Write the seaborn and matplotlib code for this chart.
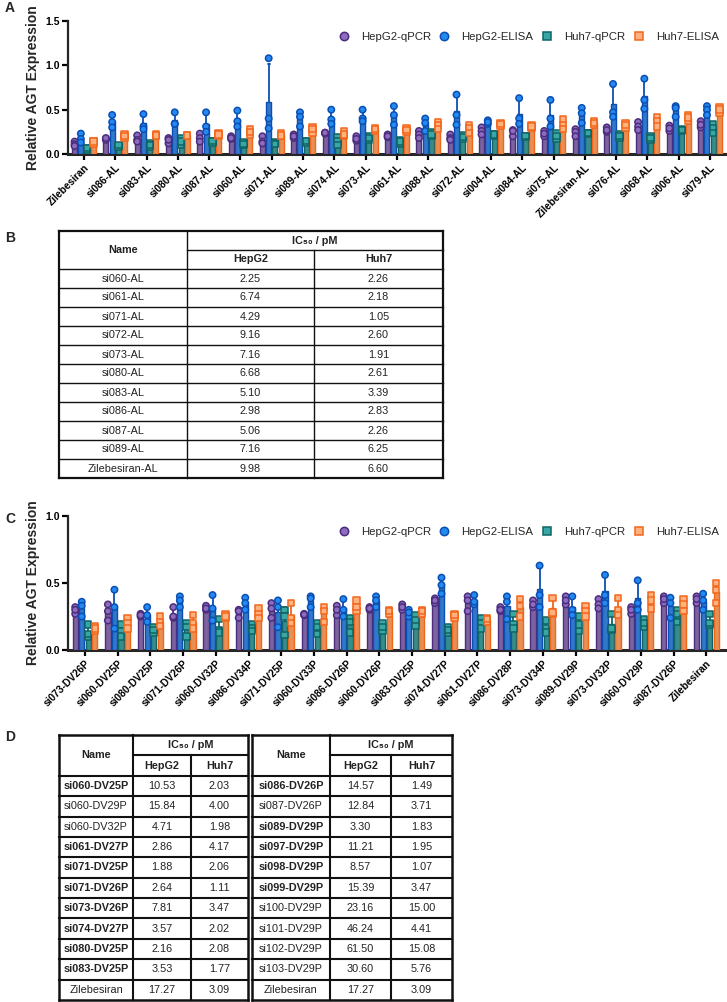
import numpy as np
import pandas as pd
import matplotlib
matplotlib.use("Agg")
import matplotlib.pyplot as plt
import seaborn as sns
from matplotlib.lines import Line2D

sns.set_theme(style="ticks")
plt.rcParams['font.family'] = ['Liberation Sans', 'DejaVu Sans']

groups = ["HepG2-qPCR", "HepG2-ELISA", "Huh7-qPCR", "Huh7-ELISA"]
bar_colors = ["#7b5aa6", "#1976e3", "#2a9a9a", "#ff8a3d"]
edge_colors = ["#4b2c7d", "#0b4fb3", "#0f6464", "#f2661a"]
marker_fill = ["#8d6cbf", "#2489f0", "#3aa7a7", "#ffb27f"]
markers = ["o", "o", "s", "s"]

# ---------------- Panel A data ----------------
a_names = ["Zilebesiran", "si086-AL", "si083-AL", "si080-AL", "si087-AL", "si060-AL",
           "si071-AL", "si089-AL", "si074-AL", "si073-AL", "si061-AL", "si088-AL",
           "si072-AL", "si004-AL", "si084-AL", "si075-AL", "Zilebesiran-AL", "si076-AL",
           "si068-AL", "si006-AL", "si079-AL"]
a_hepg2_qpcr = [[0.14, 0.11, 0.09], [0.17, 0.16, 0.18], [0.21, 0.16, 0.14], [0.18, 0.12, 0.16],
                [0.23, 0.18, 0.14], [0.20, 0.17, 0.18], [0.20, 0.14, 0.12], [0.22, 0.18, 0.20],
                [0.24, 0.23, 0.24], [0.20, 0.15, 0.17], [0.22, 0.19, 0.20], [0.26, 0.22, 0.18],
                [0.22, 0.18, 0.16], [0.30, 0.26, 0.22], [0.27, 0.20, 0.26], [0.26, 0.20, 0.23],
                [0.28, 0.25, 0.20], [0.30, 0.25, 0.27], [0.36, 0.31, 0.27], [0.32, 0.26, 0.29],
                [0.37, 0.30, 0.33]]
a_hepg2_elisa = [[0.23, 0.17, 0.13], [0.44, 0.36, 0.30], [0.45, 0.31, 0.28], [0.47, 0.34, 0.34],
                 [0.47, 0.31, 0.25], [0.49, 0.37, 0.31], [1.08, 0.40, 0.29], [0.47, 0.42, 0.31],
                 [0.50, 0.39, 0.34], [0.50, 0.40, 0.37], [0.54, 0.44, 0.33], [0.40, 0.35, 0.26],
                 [0.67, 0.44, 0.33], [0.38, 0.34, 0.36], [0.63, 0.40, 0.34], [0.61, 0.40, 0.31],
                 [0.52, 0.46, 0.35], [0.79, 0.47, 0.42], [0.85, 0.61, 0.51], [0.54, 0.52, 0.42],
                 [0.54, 0.50, 0.44]]
a_huh7_qpcr = [[0.06, 0.05, 0.07], [0.09, 0.08, 0.10], [0.12, 0.08, 0.10], [0.18, 0.10, 0.14],
               [0.14, 0.13, 0.15], [0.13, 0.10, 0.11], [0.13, 0.12, 0.11], [0.14, 0.13, 0.15],
               [0.19, 0.14, 0.10], [0.20, 0.16, 0.18], [0.16, 0.12, 0.14], [0.25, 0.20, 0.22],
               [0.21, 0.17, 0.19], [0.22, 0.21, 0.22], [0.20, 0.19, 0.20], [0.23, 0.17, 0.20],
               [0.24, 0.23, 0.235], [0.22, 0.18, 0.20], [0.20, 0.16, 0.18], [0.285, 0.26, 0.27],
               [0.34, 0.29, 0.24]]
a_huh7_elisa = [[0.14, 0.11, 0.14], [0.22, 0.18, 0.20], [0.22, 0.20, 0.21], [0.21, 0.20, 0.21],
                [0.24, 0.20, 0.22], [0.28, 0.22, 0.25], [0.24, 0.20, 0.21], [0.30, 0.24, 0.28],
                [0.26, 0.20, 0.22], [0.29, 0.26, 0.28], [0.29, 0.25, 0.27], [0.36, 0.32, 0.28],
                [0.32, 0.29, 0.24], [0.35, 0.32, 0.34], [0.32, 0.29, 0.31], [0.39, 0.33, 0.28],
                [0.37, 0.33, 0.35], [0.35, 0.30, 0.33], [0.42, 0.37, 0.31], [0.44, 0.38, 0.41],
                [0.53, 0.46, 0.50]]
a_yticks = [0.0, 0.5, 1.0, 1.5]

# ---------------- Panel C data ----------------
c_names = ["si073-DV26P", "si060-DV25P", "si080-DV25P", "si071-DV26P", "si060-DV32P",
           "si086-DV34P", "si071-DV25P", "si060-DV33P", "si086-DV26P", "si060-DV26P",
           "si083-DV25P", "si074-DV27P", "si061-DV27P", "si086-DV28P", "si073-DV34P",
           "si089-DV29P", "si073-DV32P", "si060-DV29P", "si087-DV26P", "Zilebesiran"]
c_hepg2_qpcr = [[0.32, 0.27, 0.30], [0.34, 0.29, 0.22], [0.27, 0.25, 0.26], [0.32, 0.24, 0.25],
                [0.33, 0.30, 0.31], [0.30, 0.24, 0.29], [0.35, 0.31, 0.24], [0.27, 0.26, 0.265],
                [0.33, 0.26, 0.30], [0.32, 0.30, 0.31], [0.34, 0.30, 0.32], [0.385, 0.35, 0.37],
                [0.40, 0.37, 0.29], [0.32, 0.29, 0.30], [0.37, 0.32, 0.34], [0.40, 0.34, 0.37],
                [0.38, 0.34, 0.31], [0.32, 0.27, 0.30], [0.40, 0.35, 0.38], [0.40, 0.35, 0.38]]
c_hepg2_elisa = [[0.36, 0.33, 0.25], [0.45, 0.32, 0.16], [0.32, 0.21, 0.26], [0.40, 0.37, 0.32],
                 [0.41, 0.31, 0.22], [0.39, 0.35, 0.30], [0.37, 0.32, 0.17], [0.40, 0.385, 0.32],
                 [0.38, 0.30, 0.25], [0.40, 0.37, 0.32], [0.30, 0.25, 0.28], [0.54, 0.485, 0.42],
                 [0.41, 0.34, 0.36], [0.40, 0.36, 0.23], [0.63, 0.41, 0.32], [0.40, 0.30, 0.26],
                 [0.56, 0.41, 0.35], [0.52, 0.35, 0.30], [0.39, 0.35, 0.24], [0.42, 0.37, 0.30]]
c_huh7_qpcr = [[0.19, 0.10, 0.12], [0.19, 0.14, 0.10], [0.17, 0.13, 0.15], [0.20, 0.17, 0.10],
               [0.23, 0.15, 0.13], [0.19, 0.16, 0.14], [0.30, 0.25, 0.11], [0.20, 0.17, 0.12],
               [0.24, 0.21, 0.13], [0.20, 0.14, 0.17], [0.26, 0.22, 0.18], [0.17, 0.13, 0.15],
               [0.24, 0.20, 0.16], [0.27, 0.19, 0.16], [0.22, 0.16, 0.13], [0.25, 0.14, 0.19],
               [0.27, 0.15, 0.16], [0.23, 0.17, 0.20], [0.30, 0.27, 0.21], [0.27, 0.19, 0.20]]
c_huh7_elisa = [[0.18, 0.14, 0.16], [0.24, 0.20, 0.16], [0.25, 0.21, 0.18], [0.26, 0.20, 0.16],
                [0.27, 0.24, 0.25], [0.31, 0.27, 0.24], [0.35, 0.24, 0.20], [0.32, 0.29, 0.21],
                [0.37, 0.29, 0.32], [0.30, 0.27, 0.29], [0.30, 0.27, 0.29], [0.27, 0.24, 0.26],
                [0.24, 0.21, 0.23], [0.38, 0.33, 0.25], [0.39, 0.27, 0.28], [0.33, 0.29, 0.25],
                [0.39, 0.30, 0.26], [0.41, 0.37, 0.31], [0.38, 0.34, 0.29], [0.50, 0.45, 0.35]]
c_yticks = [0.0, 0.5, 1.0]

# ---------------- Table B data ----------------
b_names = ["si060-AL", "si061-AL", "si071-AL", "si072-AL", "si073-AL", "si080-AL",
           "si083-AL", "si086-AL", "si087-AL", "si089-AL", "Zilebesiran-AL"]
b_hepg2 = ["2.25", "6.74", "4.29", "9.16", "7.16", "6.68", "5.10", "2.98", "5.06", "7.16", "9.98"]
b_huh7 = ["2.26", "2.18", "1.05", "2.60", "1.91", "2.61", "3.39", "2.83", "2.26", "6.25", "6.60"]

# ---------------- Table D data ----------------
d1_names = ["si060-DV25P", "si060-DV29P", "si060-DV32P", "si061-DV27P", "si071-DV25P",
            "si071-DV26P", "si073-DV26P", "si074-DV27P", "si080-DV25P", "si083-DV25P", "Zilebesiran"]
d1_hepg2 = ["10.53", "15.84", "4.71", "2.86", "1.88", "2.64", "7.81", "3.57", "2.16", "3.53", "17.27"]
d1_huh7 = ["2.03", "4.00", "1.98", "4.17", "2.06", "1.11", "3.47", "2.02", "2.08", "1.77", "3.09"]
d1_bold = [True, False, False, True, True, True, True, True, True, True, False]
d2_names = ["si086-DV26P", "si087-DV26P", "si089-DV29P", "si097-DV29P", "si098-DV29P",
            "si099-DV29P", "si100-DV29P", "si101-DV29P", "si102-DV29P", "si103-DV29P", "Zilebesiran"]
d2_hepg2 = ["14.57", "12.84", "3.30", "11.21", "8.57", "15.39", "23.16", "46.24", "61.50", "30.60", "17.27"]
d2_huh7 = ["1.49", "3.71", "1.83", "1.95", "1.07", "3.47", "15.00", "4.41", "15.08", "5.76", "3.09"]
d2_bold = [True, False, True, True, True, True, False, False, False, False, False]

W, H = 727, 1002
fig = plt.figure(figsize=(W / 100, H / 100), dpi=100)


def fbox(x0, y0, x1, y1):
    return [x0 / W, 1 - y1 / H, (x1 - x0) / W, (y1 - y0) / H]


def draw_bars(ax, names, series, yticks, legend_anchor):
    rows = []
    for g, vals in zip(groups, series):
        for n, reps in zip(names, vals):
            for v in reps:
                rows.append((n, g, v))
    df = pd.DataFrame(rows, columns=["name", "group", "value"])
    pal_bar = dict(zip(groups, bar_colors))
    pal_pt = dict(zip(groups, marker_fill))
    for i, g in enumerate(groups):
        sub = df[df["group"] == g]
        sns.barplot(data=sub, x="name", y="value", hue="group", order=names, hue_order=groups,
                    palette=pal_bar, errorbar="sd", capsize=0.3, width=0.8, gap=0.2, dodge=True,
                    err_kws={"color": edge_colors[i], "linewidth": 1.3, "zorder": 2},
                    edgecolor=edge_colors[i], linewidth=1.0, zorder=3, legend=False, ax=ax)
        sns.stripplot(data=sub, x="name", y="value", hue="group", order=names, hue_order=groups,
                      palette=pal_pt, dodge=True, jitter=False, marker=markers[i], size=4.6,
                      edgecolor=edge_colors[i], linewidth=1.1, zorder=5, legend=False, ax=ax)
    ax.set_ylim(yticks[0], yticks[-1])
    ax.set_yticks(yticks)
    ax.set_yticklabels([f"{t:.1f}" for t in yticks], fontweight="bold", fontsize=7.5)
    ax.set_xlabel("")
    ax.set_ylabel("Relative AGT Expression", fontweight="bold", fontsize=10, labelpad=4)
    ax.set_xticks(range(len(names)))
    ax.set_xticklabels(names, rotation=45, ha="right", rotation_mode="anchor",
                       fontweight="bold", fontsize=7.3)
    sns.despine(ax=ax)
    ax.spines["left"].set_linewidth(1.6)
    ax.spines["bottom"].set_linewidth(2.2)
    ax.tick_params(axis="both", width=1.6, length=4, pad=2, colors="black")
    handles = [Line2D([], [], marker=markers[i], linestyle="none", markersize=6,
                      markerfacecolor=marker_fill[i], markeredgecolor=edge_colors[i],
                      markeredgewidth=1.1, label=groups[i]) for i in range(4)]
    ax.legend(handles=handles, loc="upper right", bbox_to_anchor=legend_anchor, ncol=4,
              frameon=False, fontsize=8.2, handlelength=1.0, handletextpad=1.0,
              columnspacing=0.7, borderaxespad=0)


# Panel A
axA = fig.add_axes(fbox(68, 21, 727, 154))
draw_bars(axA, a_names, [a_hepg2_qpcr, a_hepg2_elisa, a_huh7_qpcr, a_huh7_elisa],
          a_yticks, (0.995, 0.95))
axA.set_xlim(-0.51, 20.54)

# Panel C
axC = fig.add_axes(fbox(68, 516, 727, 650))
draw_bars(axC, c_names, [c_hepg2_qpcr, c_hepg2_elisa, c_huh7_qpcr, c_huh7_elisa],
          c_yticks, (0.995, 0.95))
axC.set_xlim(-0.52, 19.63)

table_font = ['Liberation Sans Narrow', 'Liberation Sans', 'DejaVu Sans']


def draw_table(ax, names, hep, huh, bold, col_edges, fs, lw_out, lw_in):
    n = len(names)
    nr = n + 2
    ax.set_xlim(0, 1)
    ax.set_ylim(nr, 0)
    ax.axis("off")
    c0, c1, c2, c3 = col_edges
    kw = dict(color="#111111", clip_on=False, capstyle="projecting")
    # inner lines
    ax.vlines(c1, 0, nr, linewidth=lw_in, **kw)
    ax.vlines(c2, 1, nr, linewidth=lw_in, **kw)
    ax.hlines(1, c1, c3, linewidth=lw_in, **kw)
    ax.hlines(range(2, nr), c0, c3, linewidth=lw_in, **kw)
    # outer border
    ax.hlines([0, nr], c0, c3, linewidth=lw_out, **kw)
    ax.vlines([c0, c3], 0, nr, linewidth=lw_out, **kw)
    tk = dict(ha="center", va="center", family=table_font, color="#222222")
    ax.text((c0 + c1) / 2, 1.0, "Name", fontsize=fs, fontweight="bold", **tk)
    ax.text((c1 + c3) / 2, 0.5, "IC\u2085\u2080 / pM", fontsize=fs, fontweight="bold", **tk)
    ax.text((c1 + c2) / 2, 1.5, "HepG2", fontsize=fs, fontweight="bold", **tk)
    ax.text((c2 + c3) / 2, 1.5, "Huh7", fontsize=fs, fontweight="bold", **tk)
    for i in range(n):
        y = i + 2.5
        ax.text((c0 + c1) / 2, y, names[i], fontsize=fs,
                fontweight="bold" if bold[i] else "normal", **tk)
        ax.text((c1 + c2) / 2, y, hep[i], fontsize=fs, **tk)
        ax.text((c2 + c3) / 2, y, huh[i], fontsize=fs, **tk)


# Table B
axB = fig.add_axes(fbox(59, 231, 443, 478))
draw_table(axB, b_names, b_hepg2, b_huh7, [False] * len(b_names),
           [0, 0.333, 0.664, 1.0], 7.8, 1.6, 1.0)

# Table D
axD1 = fig.add_axes(fbox(59, 735, 248, 1000))
draw_table(axD1, d1_names, d1_hepg2, d1_huh7, d1_bold, [0, 0.392, 0.698, 1.0], 7.8, 1.8, 1.5)
axD2 = fig.add_axes(fbox(252, 735, 452, 1000))
draw_table(axD2, d2_names, d2_hepg2, d2_huh7, d2_bold, [0, 0.39, 0.695, 1.0], 7.8, 1.8, 1.5)

# Panel letters
for lab, y in [("A", 8), ("B", 238), ("C", 519), ("D", 737)]:
    fig.text(5 / W, 1 - y / H, lab, fontsize=10, fontweight="bold", va="center", ha="left")

fig.savefig("out.png", dpi=100)
